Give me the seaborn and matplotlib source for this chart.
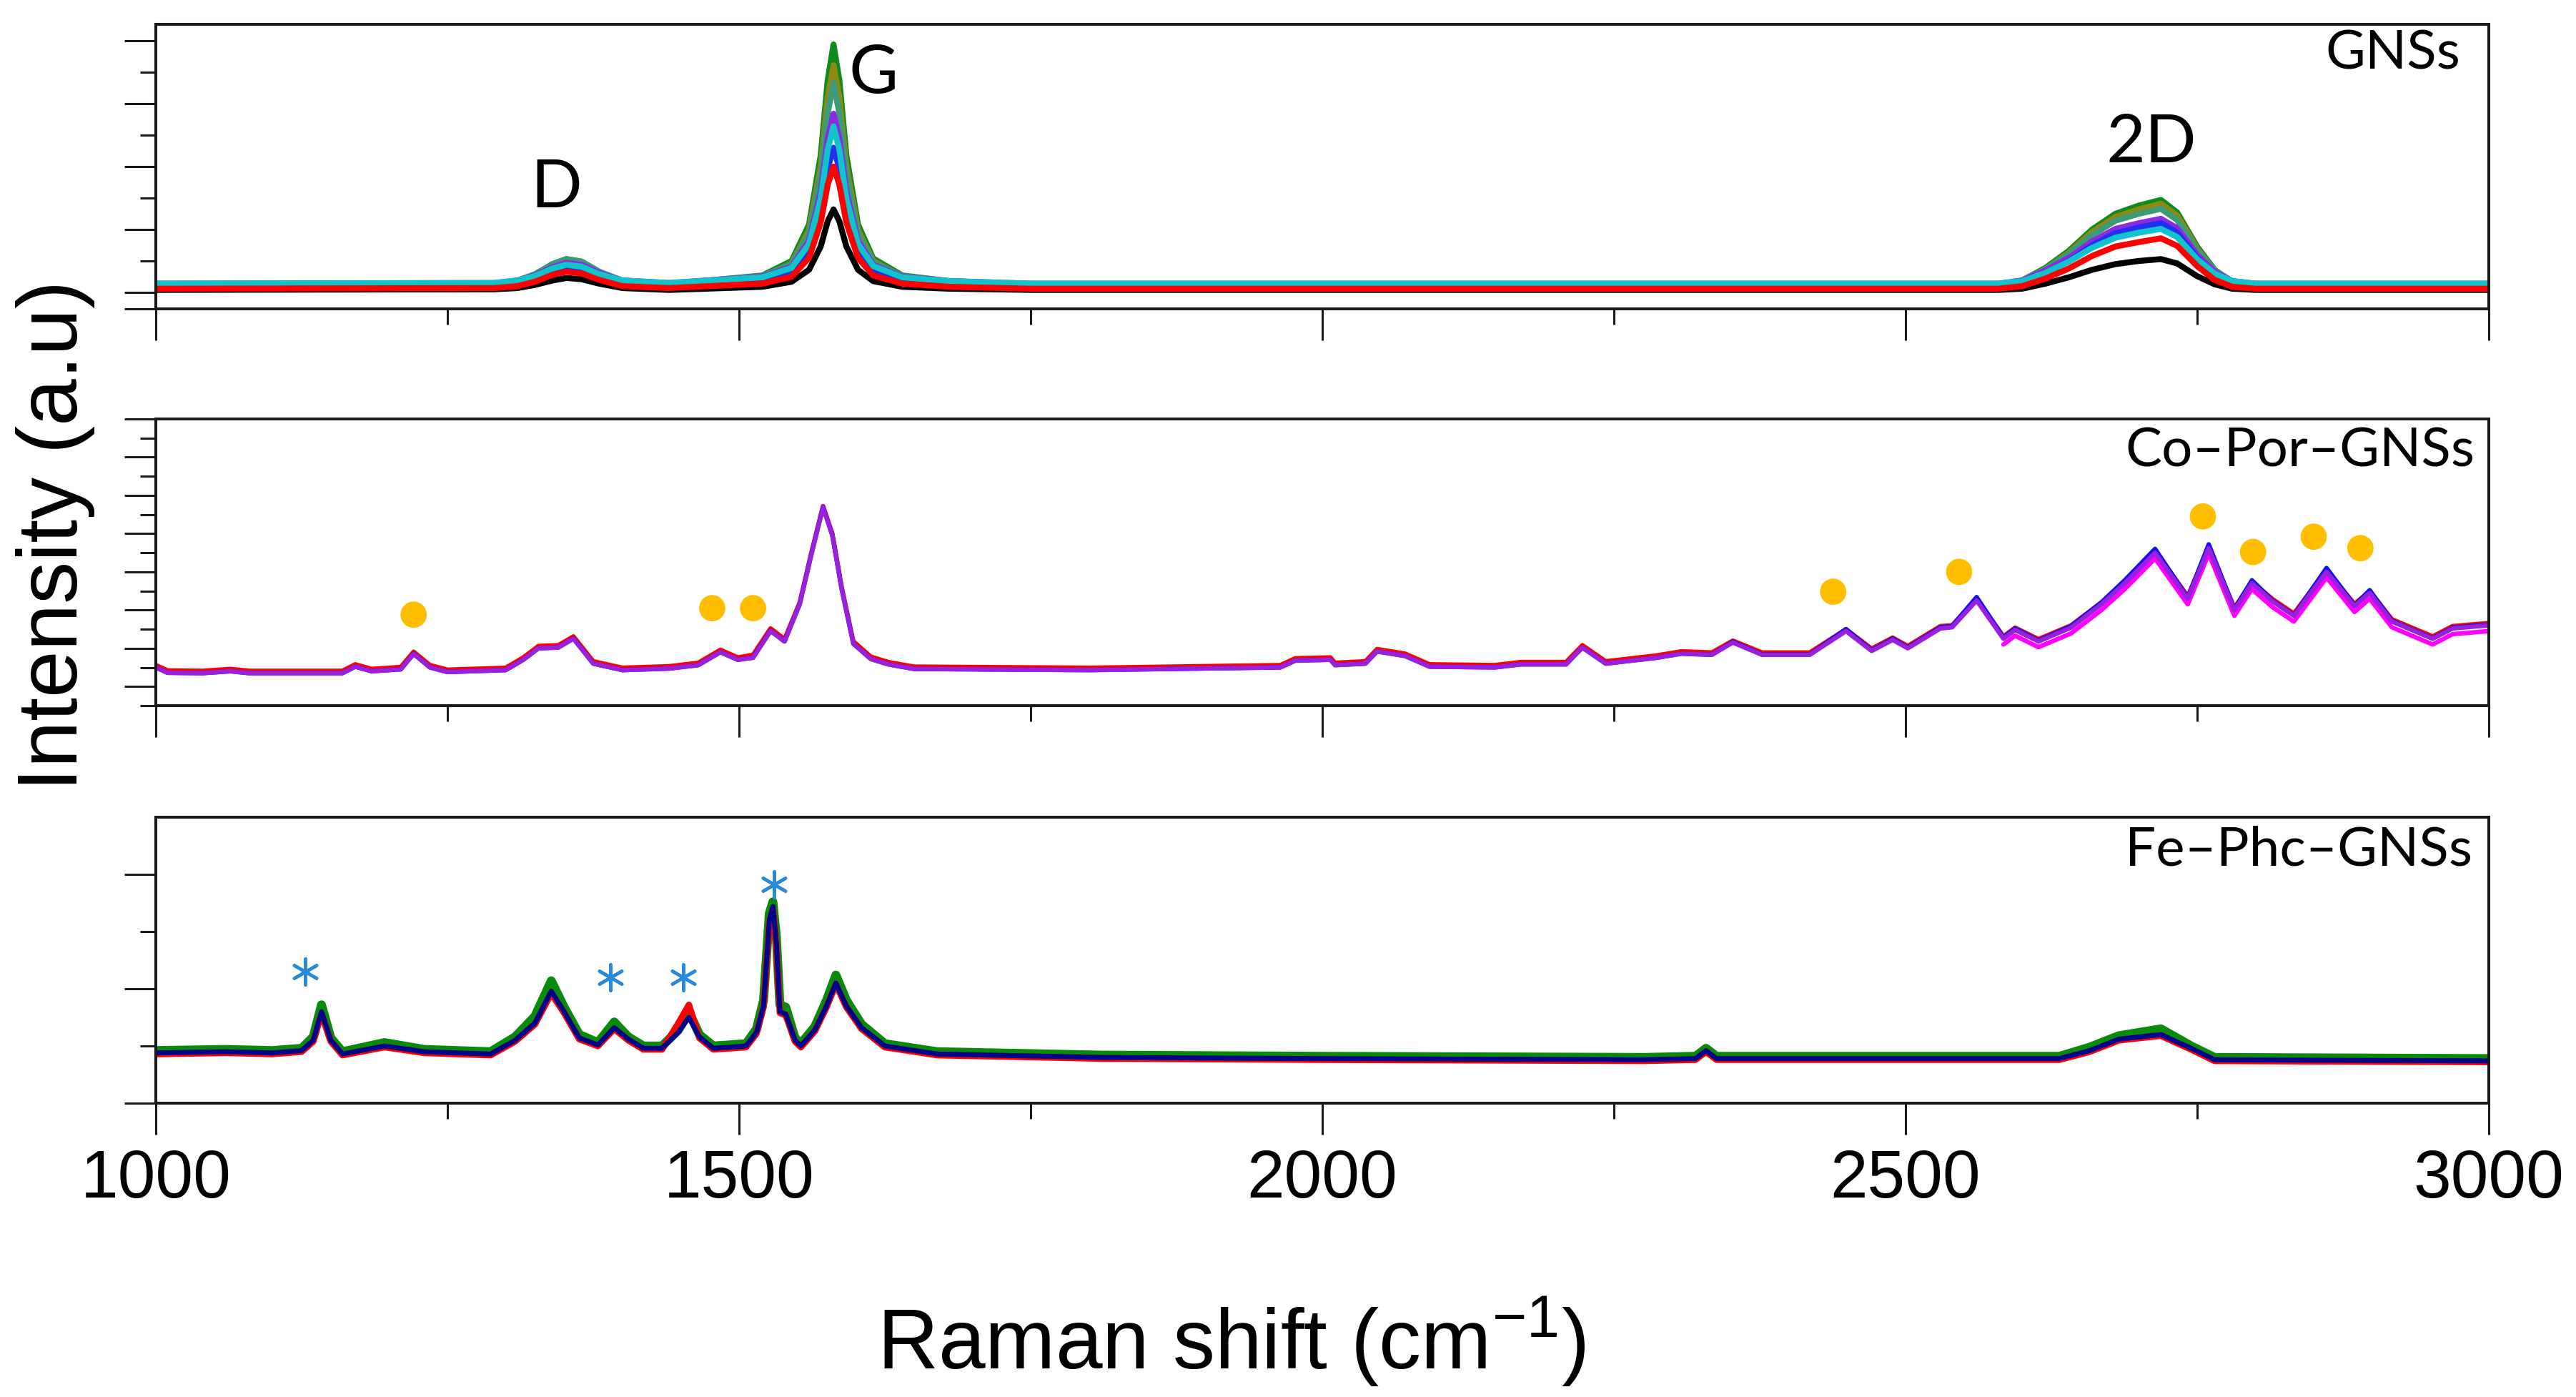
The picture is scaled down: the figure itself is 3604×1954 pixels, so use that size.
import numpy as np
import pandas as pd
import seaborn as sns
import matplotlib.pyplot as plt

# ---- data ----
# GNSs panel: shared Raman-shift grid, one intensity list per spectrum
x_gns = [1000, 1290, 1310, 1325, 1340, 1352, 1365, 1380, 1400, 1440,
         1520, 1545, 1560, 1570, 1576, 1581, 1586, 1592, 1602, 1615,
         1640, 1680, 1750, 2580, 2600, 2620, 2640, 2660, 2680, 2700,
         2719, 2733, 2750, 2765, 2780, 2800, 3000]
gns_green = [.12, .13, .18, .28, .45, .53, .49, .33, .18, .13,
             .27, .50, 1.08, 2.18, 3.37, 3.94, 3.37, 2.18, 1.08, .54,
             .27, .18, .12, .12, .19, .39, .66, 1.00, 1.25, 1.38,
             1.47, 1.27, .73, .36, .17, .12, .12]
gns_olive = [.11, .12, .17, .26, .41, .49, .45, .30, .17, .12,
             .25, .46, .99, 2.00, 3.09, 3.61, 3.09, 2.00, .99, .50,
             .25, .16, .11, .11, .18, .37, .63, .96, 1.20, 1.32,
             1.41, 1.22, .70, .34, .16, .11, .11]
gns_teal = [.13, .14, .19, .29, .45, .53, .49, .33, .19, .14,
            .26, .45, .93, 1.86, 2.85, 3.33, 2.85, 1.86, .93, .48,
            .26, .18, .13, .13, .19, .37, .61, .91, 1.14, 1.25,
            1.33, 1.15, .67, .35, .18, .13, .13]
gns_purple = [.14, .15, .19, .27, .40, .47, .44, .31, .19, .15,
              .25, .41, .82, 1.60, 2.44, 2.84, 2.44, 1.60, .82, .44,
              .25, .18, .14, .14, .19, .35, .55, .81, 1.01, 1.10,
              1.17, 1.02, .60, .33, .18, .14, .14]
gns_blue = [.10, .11, .15, .23, .36, .42, .39, .26, .15, .11,
            .19, .32, .65, 1.29, 1.97, 2.30, 1.97, 1.29, .65, .34,
            .19, .13, .10, .10, .15, .30, .50, .75, .94, 1.03,
            1.10, .95, .55, .28, .14, .10, .10]
gns_cyan = [.14, .15, .19, .26, .38, .44, .41, .29, .19, .15,
            .24, .39, .77, 1.49, 2.27, 2.64, 2.27, 1.49, .77, .42,
            .24, .18, .14, .14, .18, .31, .49, .71, .87, .95,
            1.01, .88, .53, .30, .18, .14, .14]
gns_black = [.04, .05, .07, .12, .19, .23, .21, .14, .07, .04,
             .09, .17, .36, .73, 1.13, 1.32, 1.13, .73, .36, .18,
             .09, .06, .04, .04, .06, .14, .24, .36, .45, .50,
             .53, .46, .26, .13, .06, .04, .04]
gns_red = [.06, .07, .10, .17, .28, .33, .30, .20, .10, .07,
           .14, .25, .55, 1.11, 1.71, 2.00, 1.71, 1.11, .55, .27,
           .14, .09, .06, .06, .10, .22, .38, .58, .73, .80,
           .86, .74, .42, .20, .09, .06, .06]

# Co-Por-GNSs panel
x_co = [1000, 1010, 1040, 1064, 1080, 1160, 1171, 1185, 1210, 1221,
        1235, 1250, 1300, 1315, 1328, 1345, 1358, 1375, 1400, 1440,
        1465, 1484, 1499, 1512, 1527, 1539, 1552, 1562, 1572, 1580,
        1588, 1598, 1613, 1628, 1650, 1700, 1800, 1964, 1977, 2007,
        2011, 2037, 2047, 2071, 2092, 2148, 2170, 2209, 2223, 2243,
        2286, 2308, 2334, 2352, 2377, 2418, 2449, 2471, 2489, 2502,
        2530, 2540, 2561, 2584, 2594, 2614, 2642, 2668, 2688, 2714,
        2742, 2760, 2782, 2797, 2815, 2833, 2861, 2885, 2898, 2917,
        2952, 2969, 3000]
co_purple = [0.50, 0.36, 0.35, 0.40, 0.35, 0.35, 0.52, 0.40, 0.45, 0.85,
             0.50, 0.38, 0.43, 0.70, 1.00, 1.02, 1.25, 0.60, 0.43, 0.47,
             0.56, 0.90, 0.70, 0.75, 1.45, 1.18, 2.15, 3.45, 4.69, 3.95,
             2.55, 1.12, 0.72, 0.58, 0.46, 0.45, 0.43, 0.50, 0.68, 0.70,
             0.56, 0.60, 0.92, 0.80, 0.52, 0.50, 0.58, 0.58, 1.02, 0.60,
             0.75, 0.86, 0.83, 1.15, 0.83, 0.83, 1.45, 0.93, 1.22, 1.00,
             1.52, 1.55, 2.25, 1.25, 1.48, 1.18, 1.54, 2.15, 2.70, 3.50,
             2.30, 3.62, 2.00, 2.70, 2.22, 1.85, 3.00, 2.10, 2.45, 1.70,
             1.25, 1.52, 1.60]
co_red = [0.56, 0.42, 0.41, 0.46, 0.41, 0.41, 0.58, 0.46, 0.51, 0.91,
          0.56, 0.44, 0.49, 0.76, 1.06, 1.08, 1.31, 0.66, 0.49, 0.53,
          0.62, 0.96, 0.76, 0.83, 1.52, 1.24, 2.20, 3.50, 4.72, 4.00,
          2.60, 1.18, 0.78, 0.64, 0.52, 0.51, 0.49, 0.56, 0.74, 0.76,
          0.62, 0.66, 0.98, 0.86, 0.58, 0.56, 0.64, 0.64, 1.08, 0.66,
          0.81, 0.92, 0.89, 1.20, 0.89, 0.89, 1.50, 0.99, 1.28, 1.06,
          1.58, 1.60, 2.30, 1.31, 1.54, 1.24, 1.60, 2.20, 2.75, 3.55,
          2.36, 3.65, 2.06, 2.74, 2.28, 1.91, 3.05, 2.16, 2.50, 1.76,
          1.31, 1.58, 1.66]
co_blue = [0.50, 0.36, 0.35, 0.40, 0.35, 0.35, 0.52, 0.40, 0.45, 0.86,
           0.50, 0.38, 0.43, 0.70, 1.00, 1.02, 1.26, 0.60, 0.43, 0.47,
           0.56, 0.90, 0.70, 0.76, 1.46, 1.18, 2.16, 3.47, 4.70, 3.96,
           2.55, 1.12, 0.72, 0.58, 0.46, 0.45, 0.43, 0.50, 0.68, 0.70,
           0.56, 0.60, 0.92, 0.80, 0.52, 0.50, 0.58, 0.58, 1.02, 0.60,
           0.75, 0.86, 0.83, 1.17, 0.84, 0.84, 1.50, 0.95, 1.25, 1.02,
           1.55, 1.58, 2.34, 1.28, 1.52, 1.20, 1.58, 2.20, 2.78, 3.60,
           2.32, 3.72, 2.02, 2.78, 2.24, 1.86, 3.10, 2.12, 2.52, 1.72,
           1.26, 1.54, 1.62]
x_co_mag = [2584, 2594, 2614, 2642, 2668, 2688, 2714, 2742, 2760, 2782,
            2797, 2815, 2833, 2861, 2885, 2898, 2917, 2952, 2969, 3000]
co_magenta = [1.10, 1.33, 1.03, 1.39, 2.00, 2.55, 3.35, 2.15, 3.47, 1.85,
              2.55, 2.07, 1.70, 2.85, 1.95, 2.30, 1.55, 1.10, 1.37, 1.45]
dot_x = [1221, 1477, 1512, 2438, 2546, 2755, 2798, 2850, 2890]
dot_y = [1.88, 2.05, 2.05, 2.48, 3.00, 4.45, 3.52, 3.92, 3.62]

# Fe-Phc-GNSs panel
x_fe = [1000, 1060, 1100, 1125, 1135, 1142, 1150, 1160, 1196, 1230,
        1287, 1308, 1325, 1339, 1350, 1363, 1379, 1393, 1405, 1418,
        1434, 1448, 1457, 1466, 1478, 1506, 1515, 1521, 1526, 1529,
        1532, 1535, 1540, 1548, 1553, 1565, 1575, 1583, 1592, 1605,
        1625, 1670, 1812, 2000, 2276, 2320, 2329, 2338, 2500, 2632,
        2658, 2683, 2719, 2745, 2765, 3000]
fe_navy = [0.44, 0.45, 0.44, 0.46, 0.55, 0.80, 0.55, 0.43, 0.50, 0.45,
           0.43, 0.55, 0.70, 0.98, 0.80, 0.57, 0.51, 0.66, 0.56, 0.48,
           0.48, 0.62, 0.75, 0.58, 0.48, 0.50, 0.62, 0.85, 1.60, 1.72,
           1.40, 0.80, 0.78, 0.55, 0.50, 0.64, 0.85, 1.05, 0.85, 0.66,
           0.50, 0.43, 0.40, 0.39, 0.38, 0.39, 0.46, 0.39, 0.39, 0.39,
           0.46, 0.56, 0.60, 0.48, 0.38, 0.37]
fe_green = [0.46, 0.47, 0.46, 0.48, 0.58, 0.86, 0.57, 0.45, 0.53, 0.47,
            0.45, 0.58, 0.76, 1.07, 0.84, 0.60, 0.53, 0.71, 0.58, 0.50,
            0.50, 0.64, 0.80, 0.60, 0.50, 0.52, 0.65, 0.90, 1.66, 1.76,
            1.45, 0.86, 0.84, 0.57, 0.52, 0.67, 0.90, 1.12, 0.90, 0.69,
            0.52, 0.45, 0.42, 0.41, 0.40, 0.41, 0.48, 0.41, 0.41, 0.41,
            0.49, 0.59, 0.65, 0.50, 0.40, 0.39]
fe_red = [0.43, 0.44, 0.43, 0.45, 0.54, 0.78, 0.54, 0.42, 0.49, 0.44,
          0.42, 0.54, 0.69, 0.96, 0.79, 0.56, 0.50, 0.65, 0.55, 0.47,
          0.47, 0.70, 0.86, 0.57, 0.47, 0.49, 0.61, 0.84, 1.58, 1.70,
          1.38, 0.79, 0.77, 0.54, 0.49, 0.63, 0.84, 1.04, 0.84, 0.65,
          0.49, 0.42, 0.39, 0.38, 0.37, 0.38, 0.45, 0.38, 0.38, 0.38,
          0.45, 0.55, 0.59, 0.47, 0.37, 0.36]
star_x = [1128, 1390, 1452, 1530]
star_y = [1.15, 1.10, 1.10, 1.91]

panel_names = ['GNSs', 'Co–Por–GNSs', 'Fe–Phc–GNSs']
peak_labels = ['D', 'G', '2D']
peak_x = [1343, 1615, 2711]
peak_y = [1.35, 3.17, 2.07]
x_ticks = [1000, 1500, 2000, 2500, 3000]

# ---- styling ----
sns.set_style('ticks')
plt.rcParams['font.family'] = ['Liberation Sans', 'DejaVu Sans']
plt.rcParams['mathtext.fontset'] = 'custom'
plt.rcParams['mathtext.rm'] = 'Liberation Sans'
plt.rcParams['mathtext.it'] = 'Liberation Sans:italic'
plt.rcParams['text.color'] = 'black'
plt.rcParams['xtick.labelcolor'] = 'black'

fig = plt.figure(figsize=(36.04, 19.54), dpi=100)
ax_top = fig.add_axes([0.0605, 0.7789, 0.9056, 0.2037])
ax_mid = fig.add_axes([0.0605, 0.4949, 0.9056, 0.2052])
ax_bot = fig.add_axes([0.0605, 0.2103, 0.9056, 0.2047])
axes = [ax_top, ax_mid, ax_bot]


def draw(ax, x, y, color, lw):
    sns.lineplot(x=x, y=y, ax=ax, color=color, linewidth=lw,
                 estimator=None, sort=False)


# GNSs
gns_series = [(gns_green, '#0E8A1E'), (gns_olive, '#8C8A10'),
              (gns_teal, '#3C9A78'), (gns_purple, '#8A2BE2'),
              (gns_blue, '#2030F0'), (gns_cyan, '#10C4CC'),
              (gns_black, '#000000'), (gns_red, '#FF0000')]
for vals, col in gns_series:
    draw(ax_top, x_gns, vals, col, 6)
for lab, px, py in zip(peak_labels, peak_x, peak_y):
    ax_top.text(px, py, lab, ha='center', va='baseline', fontsize=68,
                color='black', family=['Lato', 'DejaVu Sans'])

# Co-Por-GNSs
draw(ax_mid, x_co, co_red, '#FF0000', 4.5)
draw(ax_mid, x_co, co_blue, '#1010F0', 4.5)
draw(ax_mid, x_co_mag, co_magenta, '#FF00FF', 4.5)
draw(ax_mid, x_co, co_purple, '#9A20E0', 4.5)
sns.scatterplot(x=dot_x, y=dot_y, ax=ax_mid, s=700, color='#FFBF00',
                edgecolor='none', zorder=5)

# Fe-Phc-GNSs
draw(ax_bot, x_fe, fe_green, '#0A8A0A', 9)
draw(ax_bot, x_fe, fe_red, '#FF0000', 6.5)
draw(ax_bot, x_fe, fe_navy, '#00008B', 5)
sns.scatterplot(x=star_x, y=star_y, ax=ax_bot, marker=(6, 2, 0), s=680,
                color='#2B8AD8', edgecolor='#2B8AD8', linewidth=3.2, zorder=5)

# axes limits and ticks
ax_top.set_ylim(-0.261, 4.26)
ax_top.set_yticks([-0.261, 0, 1, 2, 3, 4])
ax_top.set_yticks([0.5, 1.5, 2.5, 3.5], minor=True)
ax_mid.set_ylim(-0.5, 7.0)
ax_mid.set_yticks(list(range(0, 8)))
ax_mid.set_yticks([-0.5, 0.5, 1.5, 2.5, 3.5, 4.5, 5.5, 6.5], minor=True)
ax_bot.set_ylim(0, 2.5)
ax_bot.set_yticks([0, 1, 2])
ax_bot.set_yticks([0.5, 1.5], minor=True)

for ax, name in zip(axes, panel_names):
    ax.set_xlim(1000, 3000)
    ax.set_xticks(x_ticks)
    ax.set_xticks([1250, 1750, 2250, 2750], minor=True)
    ax.set_xlabel('')
    ax.set_ylabel('')
    ax.set_yticklabels([])
    for sp in ax.spines.values():
        sp.set_linewidth(2.9)
        sp.set_color('#1a1a1a')
    ax.tick_params(which='major', direction='out', length=31.5, width=2.2,
                   color='#1a1a1a', labelcolor='black', labelsize=68, pad=14)
    ax.tick_params(which='minor', direction='out', length=15.8, width=2.2,
                   color='#1a1a1a')
    ax.tick_params(top=False, right=False, which='both')
    if ax is not ax_bot:
        ax.set_xticklabels([])

ax_top.text(0.988, 0.842, panel_names[0], transform=ax_top.transAxes,
            ha='right', va='baseline', fontsize=55, color='black',
            family=['Lato', 'DejaVu Sans'])
ax_mid.text(0.994, 0.833, panel_names[1], transform=ax_mid.transAxes,
            ha='right', va='baseline', fontsize=55, color='black',
            family=['Lato', 'DejaVu Sans'])
ax_bot.text(0.993, 0.8325, panel_names[2], transform=ax_bot.transAxes,
            ha='right', va='baseline', fontsize=55, color='black',
            family=['Lato', 'DejaVu Sans'])

fig.text(0.478, 0.020, 'Raman shift (cm$^{-1}$)', ha='center', va='baseline',
         fontsize=85, color='black')
fig.text(0.0216, 0.617, 'Intensity (a.u)', rotation=90, ha='center',
         va='center', fontsize=85, color='black')

fig.savefig('out.png', dpi=100)
